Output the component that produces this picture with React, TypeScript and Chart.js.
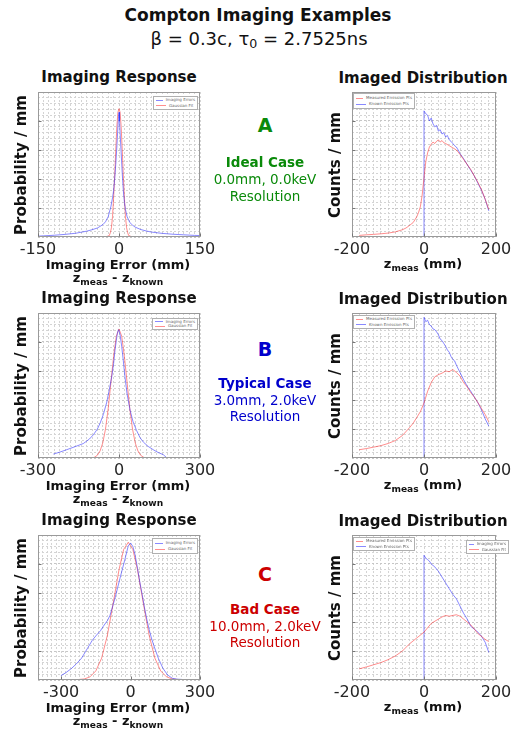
import React, { useEffect, useRef } from 'react';
import { Chart, registerables } from 'chart.js';
Chart.register(...registerables);

const FONT = '"DejaVu Sans", Verdana, sans-serif';
const BLUE = 'rgba(40,40,255,0.55)';
const RED = 'rgba(255,30,30,0.5)';

// ---------- Panel A (ideal case) ----------
const aErrX = [-150,-140,-120,-100,-80,-60,-50,-40,-30,-25,-20,-15,-12,-10,-8,-6,-4,-2,-1,0,1,2,4,6,8,10,12,15,20,25,30,40,50,60,80,100,120,140,150];
const aErrY = [0.006,0.008,0.012,0.018,0.026,0.04,0.05,0.062,0.085,0.105,0.14,0.21,0.27,0.32,0.4,0.5,0.62,0.76,0.82,0.86,0.8,0.72,0.58,0.44,0.32,0.24,0.19,0.14,0.1,0.082,0.068,0.052,0.042,0.034,0.025,0.019,0.015,0.011,0.01];
const aFitX = [-25,-18,-16,-14,-12,-10,-8,-6,-4,-2,0,2,4,6,8,10,12,14,16,18,25];
const aFitY = [0,0.01,0.03,0.065,0.14,0.27,0.42,0.6,0.76,0.86,0.885,0.86,0.76,0.6,0.42,0.27,0.14,0.065,0.03,0.01,0];
const aMeasX = [-180,-160,-140,-120,-100,-80,-60,-50,-40,-30,-20,-15,-10,-5,0,5,10,15,20,25,30,35,40,45,50,55,60,70,80,90,100,110,120,130,140,150,160,170,180];
const aMeasY = [0.011,0.015,0.018,0.022,0.027,0.035,0.05,0.062,0.08,0.1,0.14,0.17,0.21,0.29,0.41,0.52,0.58,0.62,0.64,0.655,0.645,0.66,0.67,0.655,0.665,0.65,0.645,0.63,0.615,0.6,0.57,0.535,0.5,0.465,0.42,0.375,0.325,0.26,0.19];
const aKnownX = [-180,0,0,5,10,15,20,25,30,35,40,45,50,55,60,65,70,75,80,85,90,95,100,110,120,130,140,150,160,170,180];
const aKnownY = [0,0,0.87,0.85,0.84,0.8,0.82,0.78,0.76,0.77,0.73,0.74,0.71,0.72,0.69,0.7,0.67,0.66,0.645,0.63,0.62,0.6,0.575,0.54,0.5,0.46,0.42,0.37,0.32,0.26,0.18];

// ---------- Panel B (typical case) ----------
const bErrX = [-243,-220,-194,-160,-132,-110,-95,-80,-70,-58,-46,-36,-27,-20,-15,-10,-6,-2,0,4,10,16,22,30,41,52,65,78,90,108,127,145,164,176];
const bErrY = [0.027,0.04,0.057,0.08,0.1,0.13,0.16,0.2,0.24,0.3,0.38,0.47,0.56,0.65,0.74,0.81,0.86,0.885,0.88,0.85,0.77,0.67,0.56,0.44,0.33,0.25,0.19,0.14,0.11,0.08,0.057,0.038,0.023,0.003];
const bFitX = [-100,-90,-80,-70,-60,-50,-40,-30,-20,-10,0,10,20,30,40,50,60,70,80,90,100];
const bFitY = [0,0.006,0.019,0.049,0.105,0.2,0.34,0.52,0.7,0.84,0.89,0.84,0.7,0.52,0.34,0.2,0.105,0.049,0.019,0.006,0];
const bMeasX = [-180,-160,-140,-120,-100,-80,-60,-40,-30,-20,-10,0,10,20,30,40,50,60,70,80,90,100,110,120,130,140,150,160,170,180];
const bMeasY = [0.057,0.065,0.075,0.085,0.1,0.12,0.155,0.21,0.24,0.28,0.32,0.38,0.46,0.52,0.56,0.575,0.585,0.6,0.595,0.61,0.59,0.565,0.52,0.49,0.45,0.42,0.38,0.34,0.3,0.25];
const bKnownX = [-180,0,0,5,10,15,20,25,30,35,40,45,50,55,60,65,70,75,80,85,90,95,100,110,120,130,140,150,160,170,180];
const bKnownY = [0,0,0.97,0.94,0.95,0.92,0.91,0.89,0.885,0.87,0.85,0.82,0.81,0.79,0.77,0.745,0.73,0.7,0.68,0.67,0.64,0.615,0.59,0.54,0.495,0.46,0.42,0.38,0.33,0.27,0.22];

// ---------- Panel C (bad case) ----------
const cErrX = [-301,-280,-255,-235,-212,-195,-180,-165,-147,-130,-118,-100,-89,-68,-46,-24,-10,0,10,20,30,40,50,60,70,80,90,100,120,140,160,180,200,220,245];
const cErrY = [0.03,0.05,0.08,0.11,0.15,0.195,0.235,0.275,0.31,0.34,0.37,0.41,0.445,0.56,0.7,0.835,0.925,0.945,0.92,0.86,0.77,0.675,0.59,0.5,0.42,0.35,0.29,0.24,0.15,0.08,0.035,0.012,0.006,0.004,0];
const cFitX = [-250,-200,-175,-150,-125,-100,-75,-50,-30,-10,10,30,55,80,105,130,155,180,230];
const cFitY = [0,0.007,0.022,0.063,0.151,0.31,0.53,0.76,0.9,0.95,0.9,0.76,0.53,0.31,0.151,0.063,0.022,0.007,0];
const cMeasX = [-180,-160,-140,-120,-100,-80,-60,-40,-20,0,20,40,50,60,70,80,90,100,110,120,130,140,150,160,170,180];
const cMeasY = [0.077,0.09,0.105,0.12,0.14,0.165,0.2,0.25,0.29,0.33,0.39,0.42,0.435,0.445,0.44,0.445,0.45,0.44,0.42,0.4,0.38,0.35,0.32,0.3,0.28,0.265];
const cKnownX = [-180,0,0,5,10,15,20,25,30,40,50,60,70,80,90,100,110,120,130,140,150,160,170,180];
const cKnownY = [0,0,0.86,0.84,0.83,0.82,0.8,0.79,0.78,0.75,0.71,0.67,0.63,0.59,0.56,0.51,0.46,0.42,0.37,0.35,0.33,0.3,0.26,0.19];

// tick labels
const ticksA = [-150, 0, 150];
const ticksB = [-300, 0, 300];
const ticksC = [-300, 0, 300];
const ticksR = [-200, 0, 200];

const PAD_X = 28, PAD_T = 2, AXIS_H = 26;

type S = { x: number[]; y: number[]; c: string };
type P = { l: number; t: number; w: number; h: number; xMin: number; xMax: number; xStep: number; xLabels: number[]; series: S[] };

const near = (a: number, b: number) => Math.abs(a - b) < 1e-6;
const isYMajor = (v: number) => near(v / 0.2, Math.round(v / 0.2));

const frame = {
  id: 'frame',
  afterDraw(chart: any, _a: any, opts: any) {
    const { ctx, chartArea: a, scales } = chart;
    ctx.save();
    const L = Math.round(a.left) + 0.5, T = Math.round(a.top) + 0.5, R = Math.round(a.right) - 0.5, B = Math.round(a.bottom) - 0.5;
    ctx.strokeStyle = '#9a9a9a';
    ctx.lineWidth = 1;
    ctx.strokeRect(L, T, R - L, B - T);
    ctx.strokeStyle = '#777';
    ctx.beginPath();
    for (const v of opts.xLabels || []) {
      const px = Math.round(scales.x.getPixelForValue(v)) + 0.5;
      ctx.moveTo(px, B); ctx.lineTo(px, B - 3);
    }
    for (let i = 1; i < 5; i++) {
      const py = Math.round(scales.y.getPixelForValue(i * 0.2)) + 0.5;
      ctx.moveTo(L, py); ctx.lineTo(L + 3, py);
    }
    ctx.stroke();
    ctx.restore();
  },
};

function Panel(p: P) {
  const ref = useRef<HTMLCanvasElement>(null);
  const W = p.w + 2 * PAD_X;
  const H = p.h + PAD_T + AXIS_H;
  useEffect(() => {
    const chart = new Chart(ref.current as HTMLCanvasElement, {
      type: 'line',
      data: {
        datasets: p.series.map((s) => ({
          data: s.x.map((x, i) => ({ x, y: s.y[i] })),
          borderColor: s.c,
          borderWidth: 1,
          pointRadius: 0,
          fill: false,
          tension: 0,
        })),
      },
      options: {
        animation: false,
        responsive: false,
        maintainAspectRatio: false,
        layout: { padding: { left: PAD_X, right: PAD_X, top: PAD_T, bottom: 0 } },
        plugins: { legend: { display: false }, tooltip: { enabled: false }, frame: { xLabels: p.xLabels } } as any,
        scales: {
          x: {
            type: 'linear',
            min: p.xMin,
            max: p.xMax,
            ticks: {
              stepSize: p.xStep,
              autoSkip: false,
              maxRotation: 0,
              padding: 3,
              color: '#262626',
              font: { family: FONT, size: 16 },
              callback: (v: any) => (p.xLabels.some((l) => near(l, Number(v))) ? String(v) : ''),
            },
            grid: {
              drawTicks: false,
              lineWidth: 1,
              color: '#d4d4d4',
            },
            border: { display: false, dash: [2, 2] } as any,
            afterFit: (s: any) => { s.height = AXIS_H; s.paddingLeft = 0; s.paddingRight = 0; },
          },
          y: {
            type: 'linear',
            min: 0,
            max: 1,
            ticks: { display: false, stepSize: 0.04, autoSkip: false },
            grid: {
              drawTicks: false,
              lineWidth: 1,
              color: (c: any) => (c.tick && isYMajor(c.tick.value) ? '#c6c6c6' : '#d4d4d4'),
            },
            border: { display: false, dash: [2, 2] } as any,
            afterFit: (s: any) => { s.width = 0; s.paddingTop = 0; s.paddingBottom = 0; },
          },
        },
      } as any,
      plugins: [frame as any],
    });
    return () => chart.destroy();
  }, []);
  return (
    <canvas
      ref={ref}
      width={W}
      height={H}
      style={{ position: 'absolute', left: p.l - PAD_X, top: p.t - PAD_T, width: W, height: H, display: 'block' }}
    />
  );
}

function Txt(props: { x: number; y: number; size: number; bold?: boolean; color?: string; rotate?: boolean; children: any }) {
  return (
    <div
      style={{
        position: 'absolute',
        left: props.x,
        top: props.y,
        transform: `translate(-50%,-50%)${props.rotate ? ' rotate(-90deg)' : ''}`,
        whiteSpace: 'nowrap',
        fontFamily: FONT,
        fontSize: props.size,
        fontWeight: props.bold ? 'bold' : 'normal',
        color: props.color || '#111',
        lineHeight: 1,
      }}
    >
      {props.children}
    </div>
  );
}

function Legend(props: { x: number; y: number; w: number; h: number; items: [string, string][] }) {
  return (
    <div
      style={{
        position: 'absolute', left: props.x, top: props.y, width: props.w, height: props.h,
        boxSizing: 'border-box', border: '1px solid #b0b0b0', background: '#fff',
        fontFamily: FONT, fontSize: 4, color: '#666', padding: '0 2px',
        display: 'flex', flexDirection: 'column', justifyContent: 'space-evenly',
      }}
    >
      {props.items.map(([label, color]) => (
        <div key={label} style={{ display: 'flex', alignItems: 'center', whiteSpace: 'nowrap', lineHeight: 1 }}>
          <span style={{ display: 'inline-block', width: 10, borderTop: `1px solid ${color}`, marginRight: 3 }} />
          {label}
        </div>
      ))}
    </div>
  );
}

const subStyle = { fontSize: '0.7em', verticalAlign: '-0.25em' };
const ErrLabel = () => (
  <span>z<span style={subStyle}>meas</span> - z<span style={subStyle}>known</span></span>
);
const ZLabel = () => (
  <span>z<span style={subStyle}>meas</span> (mm)</span>
);

const LEFT = { l: 38, w: 162 };
const RIGHT = { l: 352, w: 144 };
const ROWS = [
  { t: 92, h: 145 },
  { t: 313, h: 145 },
  { t: 535, h: 145 },
];

const GREEN = '#0a8a0a';
const DBLUE = '#0000cc';
const DRED = '#cc0000';

export default function App() {
  const errLegend: [string, string][] = [['Imaging Errors', BLUE], ['Gaussian Fit', RED]];
  const distLegend: [string, string][] = [['Measured Emission Pts', RED], ['Known Emission Pts', BLUE]];
  const cases = [
    { letter: 'A', name: 'Ideal Case', res: '0.0mm, 0.0keV', color: GREEN, ys: [125, 163, 180, 197] },
    { letter: 'B', name: 'Typical Case', res: '3.0mm, 2.0keV', color: DBLUE, ys: [349, 384, 401, 417] },
    { letter: 'C', name: 'Bad Case', res: '10.0mm, 2.0keV', color: DRED, ys: [574, 610, 627, 643] },
  ];
  return (
    <div style={{ position: 'absolute', left: 0, top: 0, width: 515, height: 732, overflow: 'hidden', background: '#fff' }}>
      <Txt x={258} y={15} size={17} bold>Compton Imaging Examples</Txt>
      <Txt x={259} y={40} size={18}>β = 0.3c, τ<span style={subStyle}>0</span> = 2.7525ns</Txt>

      <Panel {...LEFT} {...ROWS[0]} xMin={-150} xMax={150} xStep={10} xLabels={ticksA}
        series={[{ x: aErrX, y: aErrY, c: BLUE }, { x: aFitX, y: aFitY, c: RED }]} />
      <Panel {...RIGHT} {...ROWS[0]} xMin={-200} xMax={200} xStep={20} xLabels={ticksR}
        series={[{ x: aMeasX, y: aMeasY, c: RED }, { x: aKnownX, y: aKnownY, c: BLUE }]} />
      <Panel {...LEFT} {...ROWS[1]} xMin={-300} xMax={300} xStep={20} xLabels={ticksB}
        series={[{ x: bErrX, y: bErrY, c: BLUE }, { x: bFitX, y: bFitY, c: RED }]} />
      <Panel {...RIGHT} {...ROWS[1]} xMin={-200} xMax={200} xStep={20} xLabels={ticksR}
        series={[{ x: bMeasX, y: bMeasY, c: RED }, { x: bKnownX, y: bKnownY, c: BLUE }]} />
      <Panel {...LEFT} {...ROWS[2]} xMin={-400} xMax={300} xStep={20} xLabels={ticksC}
        series={[{ x: cErrX, y: cErrY, c: BLUE }, { x: cFitX, y: cFitY, c: RED }]} />
      <Panel {...RIGHT} {...ROWS[2]} xMin={-200} xMax={200} xStep={20} xLabels={ticksR}
        series={[{ x: cMeasX, y: cMeasY, c: RED }, { x: cKnownX, y: cKnownY, c: BLUE }]} />

      {ROWS.map((r, i) => (
        <React.Fragment key={i}>
          <Txt x={119} y={r.t - 15} size={15} bold>Imaging Response</Txt>
          <Txt x={423} y={r.t - 14} size={15} bold>Imaged Distribution</Txt>
          <Txt x={21} y={r.t + r.h / 2} size={15} bold rotate>Probability / mm</Txt>
          <Txt x={335} y={r.t + r.h / 2} size={15} bold rotate>Counts / mm</Txt>
          <Txt x={118} y={r.t + r.h + 27} size={13} bold>Imaging Error (mm)</Txt>
          <Txt x={118} y={r.t + r.h + 42} size={13} bold><ErrLabel /></Txt>
          <Txt x={423} y={r.t + r.h + 28} size={13} bold><ZLabel /></Txt>
        </React.Fragment>
      ))}

      {cases.map((c) => (
        <React.Fragment key={c.letter}>
          <Txt x={265} y={c.ys[0]} size={19} bold color={c.color}>{c.letter}</Txt>
          <Txt x={265} y={c.ys[1]} size={13.5} bold color={c.color}>{c.name}</Txt>
          <Txt x={265} y={c.ys[2]} size={13.5} color={c.color}>{c.res}</Txt>
          <Txt x={265} y={c.ys[3]} size={13.5} color={c.color}>Resolution</Txt>
        </React.Fragment>
      ))}

      <Legend x={153} y={96} w={45} h={14} items={errLegend} />
      <Legend x={353} y={93} w={62} h={16} items={distLegend} />
      <Legend x={152} y={318} w={46} h={12} items={errLegend} />
      <Legend x={353} y={315} w={62} h={14} items={distLegend} />
      <Legend x={152} y={538} w={46} h={16} items={errLegend} />
      <Legend x={353} y={537} w={62} h={14} items={distLegend} />
      <Legend x={466} y={540} w={43} h={14} items={errLegend} />
    </div>
  );
}
